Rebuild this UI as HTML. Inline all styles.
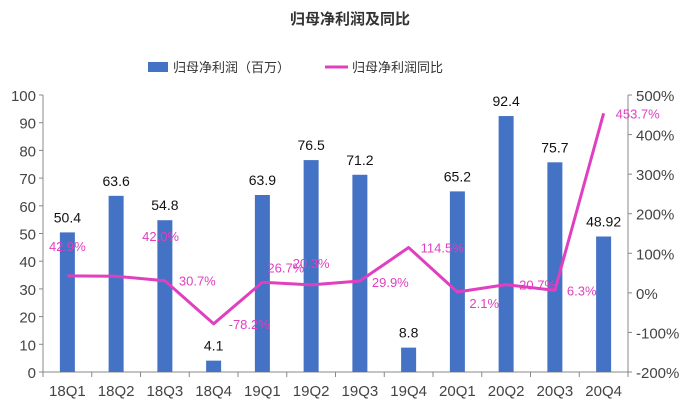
<!DOCTYPE html>
<html><head><meta charset="utf-8"><style>
body{margin:0;background:#fff;}
svg text{font-family:"Liberation Sans","Noto Sans CJK SC",sans-serif;}
</style></head><body>
<svg id="c" width="700" height="415">
<text x="350" y="24" text-anchor="middle" font-size="15" font-weight="bold" fill="#333">归母净利润及同比</text>
<g>
<rect x="148" y="62" width="20" height="10" fill="#4472C4"/>
<text x="173" y="72" font-size="13" fill="#333">归母净利润（百万）</text>
<line x1="325" y1="67" x2="348" y2="67" stroke="#E040C0" stroke-width="3"/>
<text x="352" y="72" font-size="13" fill="#333">归母净利润同比</text>
</g>
<g id="g"></g>
</svg>
<script>
const categories=["18Q1","18Q2","18Q3","18Q4","19Q1","19Q2","19Q3","19Q4","20Q1","20Q2","20Q3","20Q4"];
const profit=[50.4,63.6,54.8,4.1,63.9,76.5,71.2,8.8,65.2,92.4,75.7,48.92];
const profitLabels=["50.4","63.6","54.8","4.1","63.9","76.5","71.2","8.8","65.2","92.4","75.7","48.92"];
const growth=[42.9,42.0,30.7,-78.2,26.7,20.3,29.9,114.5,2.1,20.7,6.3,453.7];
const growthLabels=["42.9%","42.0%","30.7%","-78.2%","26.7%","20.3%","29.9%","114.5%","2.1%","20.7%","6.3%","453.7%"];
const leftTicks=[0,10,20,30,40,50,60,70,80,90,100];
const rightTicks=[-200,-100,0,100,200,300,400,500];

const X0=43,X1=628,Y0=372,Y1=95;
const step=(X1-X0)/categories.length;
const xc=i=>X0+step*(i+0.5);
const yl=v=>Y0-(v/100)*(Y0-Y1);
const yr=v=>Y0-((v+200)/700)*(Y0-Y1);
const g=document.getElementById('g');
const NS="http://www.w3.org/2000/svg";
function mk(t,a,txt){const e=document.createElementNS(NS,t);for(const k in a)e.setAttribute(k,a[k]);if(txt!=null)e.textContent=txt;g.appendChild(e);return e;}

let e;
e=mk('line',{x1:X0,y1:Y1,x2:X0,y2:Y0,stroke:'#888'});


e=mk('line',{x1:X1,y1:Y1,x2:X1,y2:Y0,stroke:'#888'});


e=mk('line',{x1:X0,y1:Y0,x2:X1,y2:Y0,stroke:'#888'});


leftTicks.forEach(v=>{
 e=mk('line',{x1:X0-4,y1:yl(v),x2:X0,y2:yl(v),stroke:'#888'});
 
 
 e=mk('text',{x:X0-7,y:yl(v)+6,'text-anchor':'end','font-size':15,fill:'#444'},String(v));
 
 
});
rightTicks.forEach(v=>{
 e=mk('line',{x1:X1,y1:yr(v),x2:X1+4,y2:yr(v),stroke:'#888'});
 
 
 e=mk('text',{x:X1+8,y:yr(v)+6,'font-size':15,fill:'#444'},v+'%');
 
 
});
for(let i=0;i<=categories.length;i++){
 e=mk('line',{x1:X0+step*i,y1:Y0,x2:X0+step*i,y2:Y0+5,stroke:'#888'});
 
 
}
categories.forEach((c,i)=>{
 e=mk('text',{x:xc(i),y:Y0+24,'text-anchor':'middle','font-size':15,fill:'#444'},c);
 
 
 e=mk('rect',{x:xc(i)-7.5,y:yl(profit[i]),width:15,height:Y0-yl(profit[i]),fill:'#4472C4'});
 
 
 e=mk('text',{x:xc(i),y:yl(profit[i])-10,'text-anchor':'middle','font-size':14,fill:'#111'},profitLabels[i]);
 
 
});
const pts=growth.map((v,i)=>xc(i)+','+yr(v)).join(' ');
e=mk('polyline',{points:pts,fill:'none',stroke:'#E040C0','stroke-width':3,'stroke-linejoin':'round'});


const off=[[0,-25],[26,-35],[14,5],[15,5],[5,-10],[0,-17],[12,6],[12,5],[12,16],[13,5],[12,5],[12,5]];
growth.forEach((v,i)=>{
 const anchor=i===0||i===5?'middle':'start';
 e=mk('text',{x:xc(i)+off[i][0],y:yr(v)+off[i][1],'text-anchor':anchor,'font-size':13,fill:'#E040C0'},growthLabels[i]);
 
 
});
</script>
</body></html>
